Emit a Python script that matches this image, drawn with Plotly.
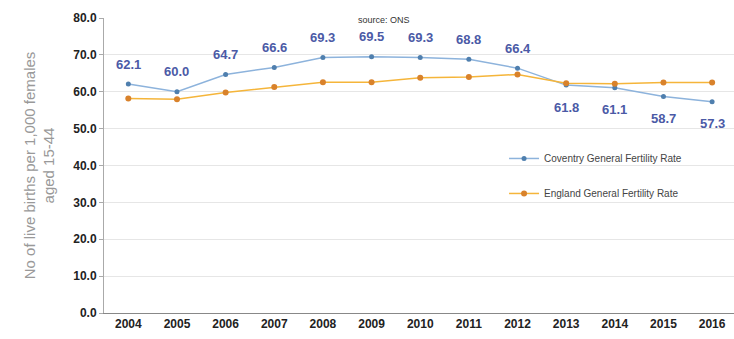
import plotly.graph_objects as go

years = [2004, 2005, 2006, 2007, 2008, 2009, 2010, 2011, 2012, 2013, 2014, 2015, 2016]
coventry = [62.1, 60.0, 64.7, 66.6, 69.3, 69.5, 69.3, 68.8, 66.4, 61.8, 61.1, 58.7, 57.3]
england = [58.2, 58.0, 59.8, 61.3, 62.6, 62.6, 63.8, 64.0, 64.7, 62.3, 62.2, 62.5, 62.5]
label_below = [False]*9 + [True]*4
yticks = [0, 10, 20, 30, 40, 50, 60, 70, 80]

fig = go.Figure()
fig.add_trace(go.Scatter(x=years, y=coventry, mode="lines+markers",
                         name="Coventry General Fertility Rate", legendgroup="c",
                         line=dict(color="#8db3dc", width=1.5),
                         marker=dict(color="#4f7fae", size=5)))
fig.add_trace(go.Scatter(x=years, y=england, mode="lines+markers",
                         name="England General Fertility Rate", legendgroup="e",
                         line=dict(color="#f5b53a", width=1.5),
                         marker=dict(color="#d9822b", size=6)))

for x, v, below in zip(years, coventry, label_below):
    fig.add_annotation(x=x, y=v, text=f"{v:.1f}", showarrow=False,
                       yshift=-22 if below else 20,
                       font=dict(family="Arial, Liberation Sans", size=13, color="#4b5aa6",
                                 weight="bold"))

fig.add_annotation(x=0.445, y=80, xref="paper", yref="y", text="source: ONS",
                   showarrow=False, yshift=-2,
                   font=dict(family="Arial, Liberation Sans", size=9, color="#333"))

fig.update_layout(
    width=734, height=339,
    margin=dict(l=104, r=0, t=18, b=26),
    paper_bgcolor="white", plot_bgcolor="white",
    font=dict(family="Arial, Liberation Sans", color="#222"),
    legend=dict(x=0.635, y=0.573, xanchor="left", yanchor="top",
                bgcolor="rgba(0,0,0,0)", font=dict(size=10, color="#444"),
                tracegroupgap=16),
    showlegend=True,
)
fig.update_xaxes(range=[2003.5, 2016.45], tickvals=years,
                 ticktext=[str(y) for y in years],
                 tickfont=dict(size=12, color="#222", family="Arial, Liberation Sans", weight="bold"),
                 showline=True, linecolor="#888", linewidth=1,
                 showgrid=False, ticks="", zeroline=False)
fig.update_yaxes(range=[0, 80], tickvals=yticks,
                 ticktext=[f"{t:.1f}" for t in yticks],
                 tickfont=dict(size=12, color="#222", family="Arial, Liberation Sans", weight="bold"),
                 showline=True, linecolor="#aaa", linewidth=1,
                 showgrid=True, gridcolor="#e6e6e6", gridwidth=1,
                 ticks="outside", ticklen=4, tickcolor="#aaa", zeroline=False,
                 title=dict(text="No of live births per 1,000 females<br>aged 15-44",
                            font=dict(size=15, color="#999"), standoff=14))

fig.write_html("out.html")
